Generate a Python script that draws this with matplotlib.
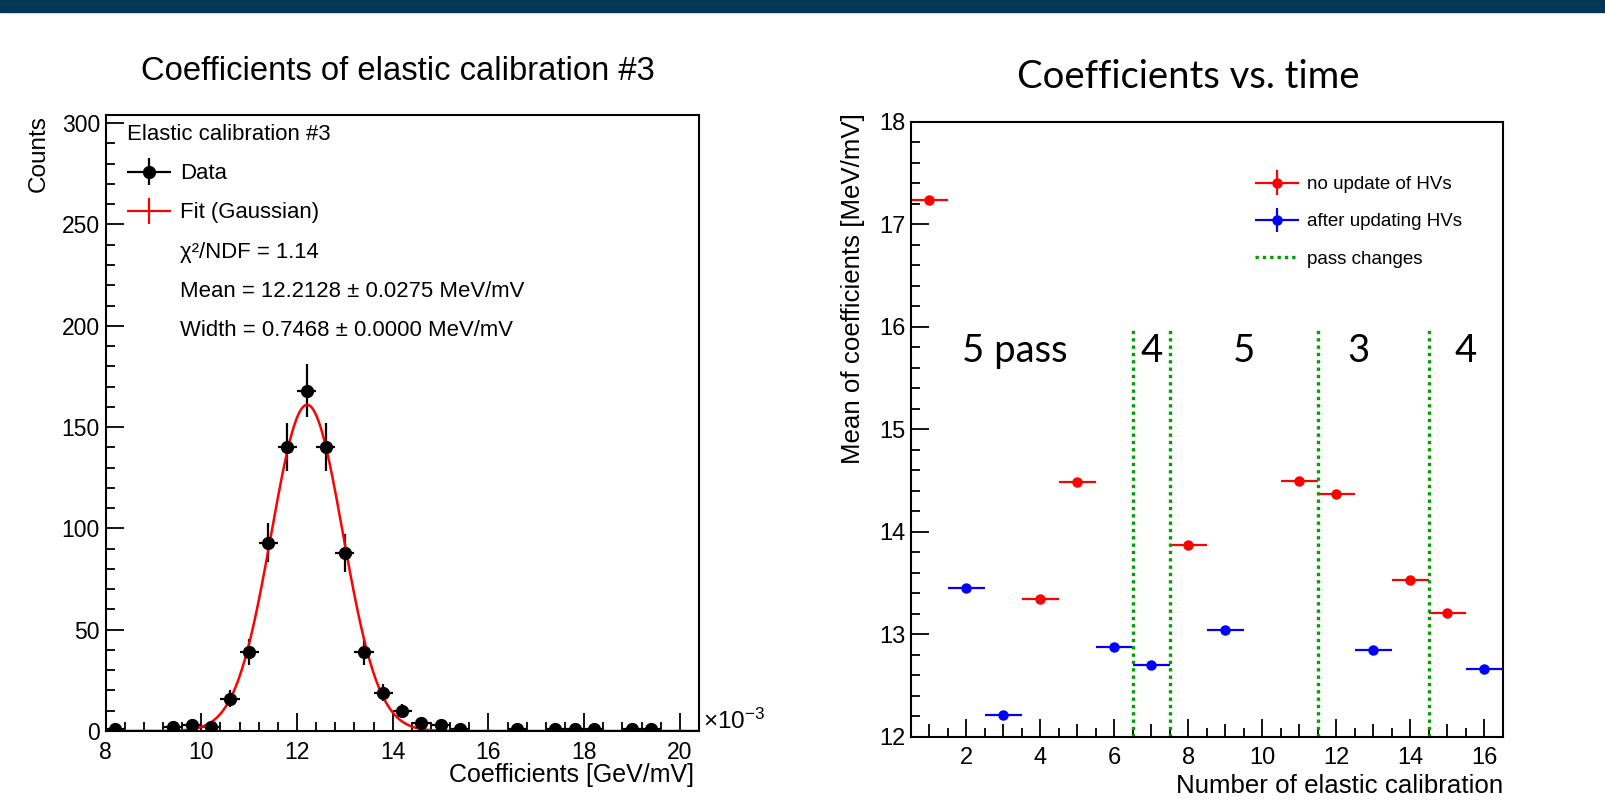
import numpy as np
import matplotlib.pyplot as plt
from matplotlib.lines import Line2D
from matplotlib.patches import Rectangle
from matplotlib.container import ErrorbarContainer
from matplotlib.legend_handler import HandlerErrorbar
from matplotlib.ticker import MultipleLocator

plt.rcParams['font.family'] = ['Liberation Sans', 'DejaVu Sans']
plt.rcParams['mathtext.fontset'] = 'custom'
plt.rcParams['mathtext.rm'] = 'Liberation Sans'
plt.rcParams['mathtext.it'] = 'Liberation Sans:italic'

# left: histogram of calibration coefficients (x1e-3 GeV/mV)
bin_centers = [8.2, 9.4, 9.8, 10.2, 10.6, 11.0, 11.4, 11.8, 12.2, 12.6, 13.0, 13.4,
               13.8, 14.2, 14.6, 15.0, 15.4, 16.6, 17.4, 17.8, 18.2, 19.0, 19.4]
counts = [1, 2, 3, 2, 16, 39, 93, 140, 168, 140, 88, 39,
          19, 10, 4, 3, 1, 1, 1, 1, 1, 1, 1]
bin_half = 0.2
fit_amp = 161
fit_mean = 12.2128
fit_mean_err = 0.0275
fit_width = 0.7468
fit_width_err = 0.0
fit_chi2 = 1.14

# right: mean coefficient per elastic calibration
calib_no_update = [1, 4, 5, 8, 11, 12, 14, 15]
coef_no_update = [17.24, 13.35, 14.49, 13.87, 14.50, 14.37, 13.53, 13.21]
calib_updated = [2, 3, 6, 7, 9, 13, 16]
coef_updated = [13.45, 12.21, 12.88, 12.70, 13.04, 12.85, 12.66]
coef_err = 0.02
pass_changes = [6.5, 7.5, 11.5, 14.5]
pass_labels = ['5 pass', '4', '5', '3', '4']

fig = plt.figure(figsize=(16.06, 8.09), dpi=100)
fig.add_artist(Rectangle((0, 1 - 12 / 809), 1, 12 / 809, transform=fig.transFigure,
                         color='#053557', zorder=0))

ax1 = fig.add_axes([0.0657, 0.0964, 0.3695, 0.7614])
ax2 = fig.add_axes([0.5672, 0.0890, 0.3686, 0.7602])

# ---- left panel
data = ax1.errorbar(bin_centers, counts, xerr=bin_half, yerr=np.sqrt(counts), fmt='o',
                    color='black', ms=8.5, elinewidth=1.6, capsize=0)
xs = np.linspace(8, 20.4, 600)
ax1.plot(xs, fit_amp * np.exp(-0.5 * ((xs - fit_mean) / fit_width) ** 2), color='red', lw=1.8)
fit_proxy = ax1.errorbar([np.nan], [np.nan], xerr=[1], yerr=[1], fmt='none',
                         ecolor='red', elinewidth=1.6)
ax1.set_xlim(8, 20.4)
ax1.set_ylim(0, 304)
ax1.xaxis.set_major_locator(MultipleLocator(2))
ax1.xaxis.set_minor_locator(MultipleLocator(0.4))
ax1.yaxis.set_major_locator(MultipleLocator(50))
ax1.yaxis.set_minor_locator(MultipleLocator(10))

blank = Line2D([], [], linestyle='none')
ax1.legend([data, fit_proxy, blank, blank, blank],
           ['Data', 'Fit (Gaussian)', 'χ²/NDF = %.2f' % fit_chi2,
            'Mean = %.4f ± %.4f MeV/mV' % (fit_mean, fit_mean_err),
            'Width = %.4f ± %.4f MeV/mV' % (fit_width, fit_width_err)],
           title='Elastic calibration #3', alignment='left', loc='upper left',
           bbox_to_anchor=(0.036, 0.985), frameon=False, fontsize=15.9, title_fontsize=15.9,
           handlelength=2.0, handletextpad=0.4, labelspacing=0.82, borderpad=0,
           borderaxespad=0,
           handler_map={ErrorbarContainer: HandlerErrorbar(xerr_size=1.0, yerr_size=0.6)})

ax1.set_xlabel('Coefficients [GeV/mV]', fontsize=18)
ax1.xaxis.label.set_ha('right')
ax1.xaxis.label.set_va('center')
ax1.xaxis.set_label_coords(0.992, -0.071)
ax1.set_ylabel('Counts', fontsize=17.5)
ax1.yaxis.label.set_ha('right')
ax1.yaxis.label.set_va('center')
ax1.yaxis.set_label_coords(-0.113, 1.0)
ax1.text(1.007, 0.016, r'$\times10^{-3}$', transform=ax1.transAxes, fontsize=17.5,
         ha='left', va='center')

# ---- right panel
red = ax2.errorbar(calib_no_update, coef_no_update, xerr=0.5, yerr=coef_err, fmt='o',
                   color='red', ms=6.5, elinewidth=1.6, capsize=0)
blue = ax2.errorbar(calib_updated, coef_updated, xerr=0.5, yerr=coef_err, fmt='o',
                    color='blue', ms=6.5, elinewidth=1.6, capsize=0)
vl = ax2.vlines(pass_changes, 12, 16, colors='#00a000', linestyles=(0, (1, 1.2)), lw=2.4)
for x, s in zip([3.3, 7.0, 9.5, 12.6, 15.5], pass_labels):
    ax2.text(x, 15.77, s, family=['Lato', 'DejaVu Sans'], fontsize=27.5, ha='center',
             va='center')

ax2.set_xlim(0.5, 16.5)
ax2.set_ylim(12, 18)
ax2.set_xticks(np.arange(2, 17, 2))
ax2.set_xticks(np.arange(0.5, 16.6, 0.5), minor=True)
ax2.yaxis.set_major_locator(MultipleLocator(1))
ax2.yaxis.set_minor_locator(MultipleLocator(0.2))

ax2.legend([red, blue, vl], ['no update of HVs', 'after updating HVs', 'pass changes'],
           loc='upper left', bbox_to_anchor=(0.581, 0.912), frameon=False, fontsize=13.5,
           handlelength=2.35, handletextpad=0.45, labelspacing=1.07, borderpad=0,
           borderaxespad=0,
           handler_map={ErrorbarContainer: HandlerErrorbar(xerr_size=1.17, yerr_size=0.65)})

ax2.set_xlabel('Number of elastic calibration', fontsize=18.6)
ax2.xaxis.label.set_ha('right')
ax2.xaxis.label.set_va('center')
ax2.xaxis.set_label_coords(1.0, -0.080)
ax2.set_ylabel('Mean of coefficients [MeV/mV]', fontsize=18.6)
ax2.yaxis.label.set_ha('right')
ax2.yaxis.label.set_va('center')
ax2.yaxis.set_label_coords(-0.098, 1.015)

for ax, lsize in ((ax1, 16.5), (ax2, 17)):
    ax.tick_params(which='both', direction='in', top=False, right=False, width=1.3,
                   labelsize=lsize)
    ax.tick_params(axis='x', pad=7)
    ax.tick_params(axis='y', pad=4)
    ax.tick_params(which='major', length=13)
    ax.tick_params(which='minor', length=6.5)
    for sp in ax.spines.values():
        sp.set_linewidth(1.5)

# medium ticks on odd calibration numbers
locs = ax2.xaxis.get_minorticklocs()
for loc, tick in zip(locs, ax2.xaxis.get_minor_ticks(len(locs))):
    if abs(loc - round(loc)) < 1e-6:
        tick.tick1line.set_markersize(9.5)

fig.text(398 / 1606, 1 - 71 / 809, 'Coefficients of elastic calibration #3', fontsize=23.6,
         ha='center', va='center')
fig.text(1188 / 1606, 1 - 77 / 809, 'Coefficients vs. time', family=['Lato', 'DejaVu Sans'],
         fontsize=27.5, ha='center', va='center')

fig.savefig('out.png', dpi=100)
